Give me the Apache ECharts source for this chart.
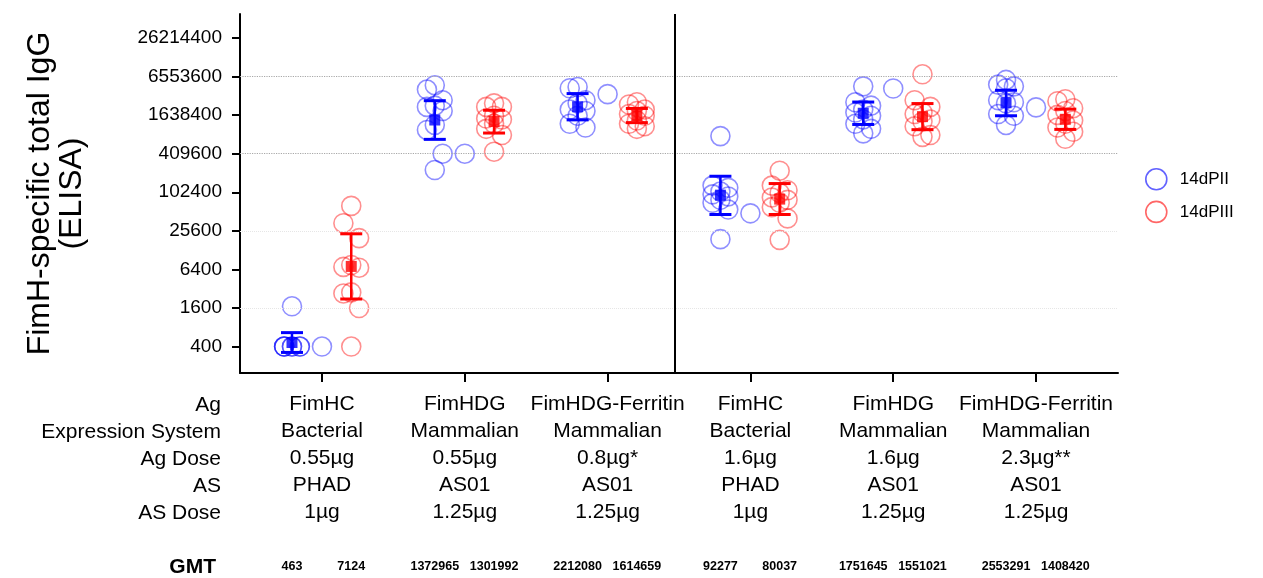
<!DOCTYPE html>
<html>
<head>
<meta charset="utf-8">
<script src="https://cdn.jsdelivr.net/npm/echarts@6/dist/echarts.min.js"></script>
<style>
html,body{margin:0;padding:0;background:#fff;}
#chart{width:1263px;height:578px;}
</style>
</head>
<body>
<div id="chart"></div>
<script>
// ---------- data ----------
const agNames = ['FimHC', 'FimHDG', 'FimHDG-Ferritin', 'FimHC', 'FimHDG', 'FimHDG-Ferritin'];
const expressionSystem = ['Bacterial', 'Mammalian', 'Mammalian', 'Bacterial', 'Mammalian', 'Mammalian'];
const agDose = ['0.55µg', '0.55µg', '0.8µg*', '1.6µg', '1.6µg', '2.3µg**'];
const adjuvantSystem = ['PHAD', 'AS01', 'AS01', 'PHAD', 'AS01', 'AS01'];
const asDose = ['1µg', '1.25µg', '1.25µg', '1µg', '1.25µg', '1.25µg'];
const rowLabels = ['Ag', 'Expression System', 'Ag Dose', 'AS', 'AS Dose'];
const yTicks = [400, 1600, 6400, 25600, 102400, 409600, 1638400, 6553600, 26214400];
const seriesNames = ['14dPII', '14dPIII'];

// individual titers (14dPII)
const blueValues = [
  [1700, 400, 400, 400, 400, 400, 400, 400],
  [4800000, 4100000, 2800000, 2300000, 2200000, 1900000, 1150000, 960000, 409600, 228000],
  [4500000, 4300000, 2800000, 2500000, 2000000, 1900000, 1600000, 1200000, 1050000],
  [770000, 130000, 120000, 105000, 95000, 88000, 78000, 70000, 55000, 19000],
  [4600000, 2600000, 2300000, 2000000, 1800000, 1600000, 1400000, 1200000, 1000000, 850000],
  [5800000, 4900000, 4600000, 4300000, 2800000, 2600000, 2500000, 1700000, 1600000, 1150000]
];
// 14dPII points drawn at the group centre
const blueMid = [400, 409600, 3480000, 48000, 4260000, 2160000];
// individual titers (14dPIII)
const redValues = [
  [62700, 33700, 19700, 7500, 7000, 6800, 2800, 2700, 1600, 400],
  [2500000, 2200000, 2200000, 1600000, 1450000, 1400000, 1200000, 1000000, 800000, 440000],
  [2600000, 2400000, 2000000, 1900000, 1700000, 1600000, 1350000, 1200000, 1100000, 1000000],
  [222000, 130000, 110000, 100000, 85000, 78000, 70000, 60000, 40000, 18500],
  [7100000, 2800000, 2200000, 1800000, 1700000, 1400000, 1300000, 1100000, 800000, 750000],
  [2900000, 2700000, 2100000, 1900000, 1650000, 1350000, 1200000, 1050000, 900000, 700000]
];
const blueGMT = [463, 1372965, 2212080, 92277, 1751645, 2553291];
const redGMT = [7124, 1301992, 1614659, 80037, 1551021, 1408420];
// error bar ranges [low, high]
const blueErr = [[324, 660], [685000, 2750000], [1380000, 3550000], [46000, 182000], [1170000, 2620000], [1600000, 4000000]];
const redErr = [[2210, 23000], [860000, 1950000], [1250000, 2080000], [46000, 140000], [970000, 2480000], [980000, 2030000]];

// ---------- layout helpers ----------
const BLUE_OFF = -0.21, RED_OFF = 0.205;
const SPREAD = [0, -1, 1];
const JIT = 0.055;
const BLUE = '#0000ff', RED = '#ff0000';
const BLUE_RING = 'rgba(0,0,255,0.55)', RED_RING = 'rgba(255,0,0,0.55)';
const FONT = 'Liberation Sans, Arial, sans-serif';

function buildPoints(vals, base) {
  const out = [];
  vals.forEach((arr, g) => arr.forEach((v, i) => out.push([g + base + SPREAD[i % 3] * JIT, v])));
  return out;
}
const bluePts = buildPoints(blueValues, BLUE_OFF).concat(blueMid.map((v, g) => [g, v]));
const redPts = buildPoints(redValues, RED_OFF);

const gmtPositions = [];
const gmtTexts = {};
blueGMT.forEach((v, g) => {
  const xb = +(g + BLUE_OFF).toFixed(3), xr = +(g + RED_OFF).toFixed(3);
  gmtPositions.push(xb, xr);
  gmtTexts[xb] = String(blueGMT[g]);
  gmtTexts[xr] = String(redGMT[g]);
});

function errSeries(name, err, base, color) {
  return {
    type: 'custom', name: name, z: 6, silent: true,
    data: err.map((e, g) => [g + base, e[0], e[1]]),
    encode: { x: 0, y: [1, 2] },
    renderItem: function (params, api) {
      const x = api.value(0);
      const lo = api.coord([x, api.value(1)]);
      const hi = api.coord([x, api.value(2)]);
      const w = 11;
      return {
        type: 'group',
        children: [
          { type: 'line', shape: { x1: lo[0], y1: lo[1], x2: hi[0], y2: hi[1] }, style: { stroke: color, lineWidth: 2.5 } },
          { type: 'line', shape: { x1: lo[0] - w, y1: lo[1], x2: lo[0] + w, y2: lo[1] }, style: { stroke: color, lineWidth: 3 } },
          { type: 'line', shape: { x1: hi[0] - w, y1: hi[1], x2: hi[0] + w, y2: hi[1] }, style: { stroke: color, lineWidth: 3 } }
        ]
      };
    }
  };
}

const dotted = { type: 'dotted', color: '#a8a8a8', width: 1.2 };
const faint = { type: 'dotted', color: '#e6e6e6', width: 1 };

const chart = echarts.init(document.getElementById('chart'), null, { renderer: 'canvas' });
chart.setOption({
  animation: false,
  backgroundColor: '#fff',
  textStyle: { fontFamily: FONT, color: '#000' },
  grid: { left: 240, right: 145, top: 14, bottom: 205, containLabel: false },
  legend: {
    orient: 'vertical', left: 1140, top: 163,
    itemWidth: 21, itemHeight: 21, itemGap: 10,
    textStyle: { fontSize: 17, color: '#000', fontFamily: FONT, padding: [0, 0, 0, 8] },
    data: [
      { name: seriesNames[0], icon: 'circle', itemStyle: { color: '#fff', borderColor: '#3b3bff', borderWidth: 1.6 } },
      { name: seriesNames[1], icon: 'circle', itemStyle: { color: '#fff', borderColor: '#ff4040', borderWidth: 1.6 } }
    ]
  },
  xAxis: [
    {
      type: 'value', min: -0.574, max: 5.574,
      splitLine: { show: false },
      axisLine: { show: true, onZero: false, lineStyle: { color: '#000', width: 2 } },
      axisTick: { show: true, customValues: [0, 1, 2, 3, 4, 5], length: 9, lineStyle: { color: '#000', width: 2 } },
      axisLabel: {
        customValues: [0, 1, 2, 3, 4, 5],
        margin: 18, fontSize: 21, lineHeight: 27, color: '#000', fontFamily: FONT, align: 'center',
        formatter: function (v) {
          const g = Math.round(v);
          return [agNames[g], expressionSystem[g], agDose[g], adjuvantSystem[g], asDose[g]].join('\n');
        }
      }
    },
    {
      type: 'value', min: -0.574, max: 5.574, position: 'bottom', offset: 0,
      splitLine: { show: false },
      axisLine: { show: false, onZero: false },
      axisTick: { show: false },
      axisLabel: {
        customValues: gmtPositions,
        margin: 187, fontSize: 12.5, fontWeight: 'bold', color: '#000', fontFamily: FONT,
        formatter: function (v) { return gmtTexts[+v.toFixed(3)] || ''; }
      }
    }
  ],
  yAxis: {
    type: 'log', logBase: 4, min: 154.7, max: 61970000,
    name: 'FimH-specific total IgG\n(ELISA)',
    nameLocation: 'middle', nameRotate: 90, nameGap: 152,
    nameTextStyle: { fontSize: 32, lineHeight: 32, color: '#000', fontFamily: FONT, align: 'center' },
    splitLine: { show: false },
    axisLine: { show: true, onZero: false, lineStyle: { color: '#000', width: 2 } },
    axisTick: { show: true, customValues: yTicks, length: 8, lineStyle: { color: '#000', width: 2 } },
    axisLabel: { customValues: yTicks, margin: 18, fontSize: 19, color: '#000', fontFamily: FONT, formatter: function (v) { return String(Math.round(v)); } }
  },
  graphic: [
    {
      type: 'text', x: 221, y: 391.5,
      style: { text: rowLabels.join('\n'), font: '21px ' + FONT, lineHeight: 27, fill: '#000', align: 'right', verticalAlign: 'top' }
    },
    {
      type: 'text', x: 216, y: 567,
      style: { text: 'GMT', font: 'bold 21px ' + FONT, fill: '#000', align: 'right', verticalAlign: 'middle' }
    }
  ],
  series: [
    {
      name: seriesNames[0], type: 'scatter', data: bluePts, symbol: 'circle', symbolSize: 19, z: 3,
      itemStyle: { color: 'rgba(255,255,255,0)', borderColor: BLUE_RING, borderWidth: 1.6 },
      markLine: {
        silent: true, symbol: ['none', 'none'], label: { show: false }, animation: false,
        data: [
          { yAxis: 6553600, lineStyle: dotted },
          { yAxis: 409600, lineStyle: dotted },
          { yAxis: 25600, lineStyle: faint },
          { yAxis: 1600, lineStyle: faint },
          { xAxis: 2.472, lineStyle: { type: 'solid', color: '#000', width: 2 } }
        ]
      }
    },
    {
      name: seriesNames[1], type: 'scatter', data: redPts, symbol: 'circle', symbolSize: 19, z: 3,
      itemStyle: { color: 'rgba(255,255,255,0)', borderColor: RED_RING, borderWidth: 1.6 }
    },
    errSeries('errPII', blueErr, BLUE_OFF, BLUE),
    errSeries('errPIII', redErr, RED_OFF, RED),
    {
      name: 'gmtPII', type: 'scatter', symbol: 'rect', symbolSize: 11, z: 7, silent: true,
      data: blueGMT.map((v, g) => [g + BLUE_OFF, v]), itemStyle: { color: BLUE }
    },
    {
      name: 'gmtPIII', type: 'scatter', symbol: 'rect', symbolSize: 11, z: 7, silent: true,
      data: redGMT.map((v, g) => [g + RED_OFF, v]), itemStyle: { color: RED }
    }
  ]
});
</script>
</body>
</html>
